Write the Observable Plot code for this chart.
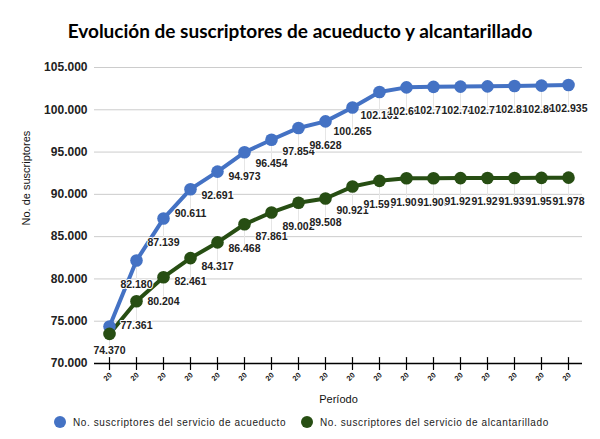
<!DOCTYPE html>
<html>
<head>
<meta charset="utf-8">
<script src="https://cdn.jsdelivr.net/npm/d3@7"></script>
<script src="https://cdn.jsdelivr.net/npm/@observablehq/plot@0.6"></script>
<style>
  html, body { margin: 0; padding: 0; background: white; }
  #wrap { position: relative; width: 600px; height: 439px; overflow: hidden; background: white; }
  #title { position: absolute; left: 0; top: 18px; width: 600px; text-align: center;
           font-family: Lato, "Open Sans", sans-serif; font-weight: bold; font-size: 19px; line-height: 26px; color: #000; }
  #chart { position: absolute; left: 0; top: 48px; }
  #legend { position: absolute; top: 414px; left: 0; width: 600px; height: 18px;
            font-family: "Liberation Sans", Arial, sans-serif; font-size: 10px; letter-spacing: 0.6px; color: #222; }
  .item { position: absolute; top: 0; display: flex; align-items: center; height: 16px; white-space: nowrap; }
  .dot { width: 12px; height: 12px; border-radius: 50%; margin-right: 7px; }
</style>
</head>
<body>
<div id="wrap">
  <div id="title"></div>
  <div id="chart"></div>
  <div id="legend"></div>
</div>
<script>
const chartTitle = "Evolución de suscriptores de acueducto y alcantarillado";
const yTitle = "No. de suscriptores";
const xTitle = "Período";
const seriesNames = ["No. suscriptores del servicio de acueducto", "No. suscriptores del servicio de alcantarillado"];
const seriesColors = ["#4472c4", "#274e13"];
const periods = [1, 2, 3, 4, 5, 6, 7, 8, 9, 10, 11, 12, 13, 14, 15, 16, 17, 18];
const tickLabels = ["20", "20", "20", "20", "20", "20", "20", "20", "20", "20", "20", "20", "20", "20", "20", "20", "20", "20"];
const acueducto = [74370, 82180, 87139, 90611, 92691, 94973, 96454, 97854, 98628, 100265, 102101, 102650, 102710, 102740, 102770, 102820, 102860, 102935];
const alcantarillado = [73500, 77361, 80204, 82461, 84317, 86468, 87861, 89002, 89508, 90921, 91597, 91902, 91908, 91921, 91927, 91935, 91953, 91978];
const yTicks = [70000, 75000, 80000, 85000, 90000, 95000, 100000, 105000];

const loc = d3.formatLocale({decimal: ",", thousands: ".", grouping: [3], currency: ["$", ""]});
const fmt = loc.format(",d");

const rows = [];
periods.forEach((p, i) => {
  rows.push({period: p, series: seriesNames[0], value: acueducto[i], idx: i});
  rows.push({period: p, series: seriesNames[1], value: alcantarillado[i], idx: i});
});
// label hidden in reference (collision): first point of second series
const labelRows = rows.filter(d => !(d.series === seriesNames[1] && d.idx === 0));

const lineShape = {draw(context, l) { context.moveTo(0, 0); context.lineTo(0, -l); }};
const color = {domain: seriesNames, range: seriesColors};

const chart = Plot.plot({
  width: 600,
  height: 365,
  marginTop: 19,
  marginBottom: 50,
  marginLeft: 94,
  marginRight: 18,
  style: {fontFamily: "'Liberation Sans', Arial, sans-serif", background: "white", color: "#222"},
  x: {type: "point", domain: periods, padding: 0.5, axis: null},
  y: {domain: [70000, 105000], axis: null},
  color,
  marks: [
    Plot.gridY(yTicks, {stroke: "#cccccc", strokeOpacity: 1, strokeWidth: 1}),
    Plot.axisY(yTicks, {tickSize: 0, tickPadding: 7, tickFormat: fmt, fontSize: 12, fontWeight: "bold", fill: "#222", label: null}),
    Plot.vector(rows, {x: "period", y: "value", length: 21, rotate: 180, anchor: "start", shape: lineShape, stroke: "#e6e6e6", strokeWidth: 1}),
    Plot.ruleY([70000], {stroke: "#000", strokeWidth: 1.3}),
    Plot.vector(periods, {x: d => d, frameAnchor: "bottom", length: 12, anchor: "middle", shape: lineShape, stroke: "#000", strokeWidth: 1.2}),
    Plot.text(periods, {x: d => d, frameAnchor: "bottom", dy: 15, rotate: -45, text: (d, i) => tickLabels[i], fontSize: 7.5, fontWeight: "bold", fill: "#222"}),
    Plot.line(rows, {x: "period", y: "value", z: "series", stroke: "series", strokeWidth: 4, strokeLinejoin: "round", strokeLinecap: "round"}),
    Plot.dot(rows, {x: "period", y: "value", fill: "series", r: 6.3}),
    Plot.text(labelRows, {x: "period", y: "value", dy: 24, text: d => fmt(d.value), fontSize: 10.5, fontWeight: "bold", fill: "#222", stroke: "white", strokeWidth: 2, paintOrder: "stroke"}),
    Plot.text([yTitle], {frameAnchor: "left", dx: -68, dy: 10, rotate: -90, text: d => d, fontSize: 11, fill: "#111"}),
    Plot.text([xTitle], {frameAnchor: "bottom", dy: 39, text: d => d, fontSize: 11, fill: "#111"})
  ]
});
document.getElementById("chart").appendChild(chart);
document.getElementById("title").textContent = chartTitle;

const legend = document.getElementById("legend");
const legendX = [54, 301];
seriesNames.forEach((name, i) => {
  const item = document.createElement("div");
  item.className = "item";
  item.style.left = legendX[i] + "px";
  const dot = document.createElement("div");
  dot.className = "dot";
  dot.style.background = seriesColors[i];
  const label = document.createElement("span");
  label.textContent = name;
  item.appendChild(dot);
  item.appendChild(label);
  legend.appendChild(item);
});
</script>
</body>
</html>
